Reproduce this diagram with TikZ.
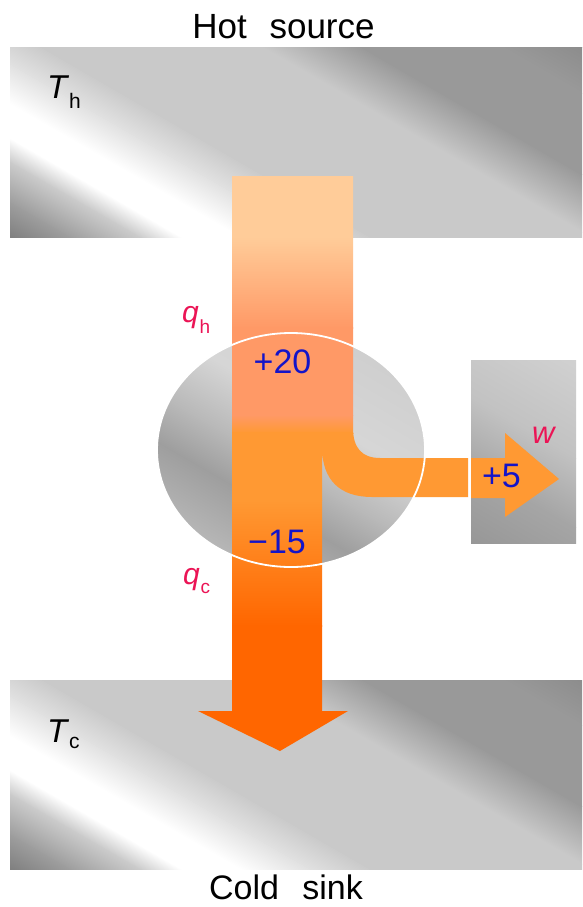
\documentclass[tikz,border=0pt]{standalone}
\usepackage{fontspec}
\setmainfont{Liberation Sans}
\begin{document}
\begin{tikzpicture}[x=1pt,y=-1pt]
\definecolor{peach}{RGB}{255,204,153}
\definecolor{salmon}{RGB}{255,153,102}
\definecolor{orng}{RGB}{255,153,51}
\definecolor{deeporange}{RGB}{255,102,0}
\definecolor{qred}{RGB}{235,20,85}
\definecolor{numblue}{RGB}{20,20,200}
\definecolor{b0}{gray}{0.50}
\definecolor{b1}{gray}{0.62}
\definecolor{b2}{gray}{0.80}
\definecolor{b3}{gray}{0.88}
\definecolor{b4}{gray}{0.79}
\definecolor{b5}{gray}{0.68}
\definecolor{b6}{gray}{0.60}
\definecolor{b7}{gray}{0.55}
\definecolor{c1}{gray}{0.76}
\definecolor{c2}{gray}{0.62}
\definecolor{c3}{gray}{0.72}
\definecolor{c4}{gray}{0.84}
\definecolor{c5}{gray}{0.80}
\definecolor{d1}{gray}{0.58}
\definecolor{d2}{gray}{0.65}
\definecolor{d3}{gray}{0.76}
\definecolor{d4}{gray}{0.83}
\tikzset{lbl/.style={inner sep=0pt, outer sep=0pt}}
\newcommand\stripefill[2]{%
  \begin{scope}[transform canvas={shift={#1},rotate=60}]
    \foreach \ua/\ca/\ub/\cb in {#2} {
      \shade[left color=\ca, right color=\cb] (\ua,-800) rectangle (\ub+0.8,800);
    }
  \end{scope}}
\useasboundingbox (0,0) rectangle (582,907);
\fill[white] (0,0) rectangle (582,907);
% hot source band
\begin{scope}
  \clip (10,48) rectangle (582,237);
  \stripefill{(10,237)}{-60/b0/0/b0, 0/b0/30/b1, 30/b1/65/b2, 65/b2/85/white, 85/white/115/white, 115/white/150/b3, 150/b3/180/b4, 180/b4/290/b4, 290/b4/340/b6, 340/b6/410/b6, 410/b6/450/b7, 450/b7/520/b7}
\end{scope}
% cold sink band
\begin{scope}
  \clip (10,680) rectangle (582,869);
  \stripefill{(10,869)}{-60/b0/0/b0, 0/b0/30/b1, 30/b1/65/b2, 65/b2/85/white, 85/white/115/white, 115/white/150/b3, 150/b3/180/b4, 180/b4/290/b4, 290/b4/340/b6, 340/b6/410/b6, 410/b6/450/b7, 450/b7/520/b7}
\end{scope}
% engine circle
\begin{scope}
  \clip (291,450) ellipse [x radius=134, y radius=117];
  \stripefill{(291,450)}{-200/c1/-150/c1, -150/c1/-60/c2, -60/c2/-20/c3, -20/c3/40/c4, 40/c4/150/c5, 150/c5/220/c5}
\end{scope}
% work box
\begin{scope}
  \clip (471,360) rectangle (576,543);
  \stripefill{(523,451)}{-180/d1/-120/d1, -120/d1/-40/d2, -40/d2/20/d3, 20/d3/120/d4, 120/d4/180/d4}
\end{scope}
% heat flow
\begin{scope}
  \clip (232,176) -- (353,176) -- (353,428) .. controls (353,448) and (362,458) .. (380,458)
    -- (468,458) -- (468,497) -- (372,497) .. controls (340,497) and (322,480) .. (322,447)
    -- (322,711) -- (348,711) -- (280,751) -- (198,711) -- (232,711) -- cycle;
  \fill[peach] (190,170) rectangle (480,238);
  \shade[top color=peach, bottom color=salmon] (190,237) rectangle (480,328);
  \fill[salmon] (190,327) rectangle (480,416);
  \shade[top color=salmon, bottom color=orng] (190,415) rectangle (480,433);
  \fill[orng] (190,432) rectangle (480,501);
  \shade[top color=orng, bottom color=deeporange] (190,500) rectangle (480,626);
  \fill[deeporange] (190,625) rectangle (480,760);
\end{scope}
\draw[white, line width=1.8] (291,450) ellipse [x radius=134, y radius=117];
% work arrow in box
\fill[orng] (471,458) -- (505,458) -- (505,433) -- (559,479) -- (505,517) -- (505,498) -- (471,498) -- cycle;
% labels
\node[lbl, anchor=base] (hot) at (283.5,38) {\fontsize{35}{35}\selectfont Hot\hspace{13pt} source};
\node[lbl, anchor=base] (cold) at (286,899) {\fontsize{34}{34}\selectfont Cold\hspace{14pt} sink};
\node[lbl, anchor=base west] (Th) at (47,98) {\fontsize{33}{33}\selectfont\itshape T\/\raisebox{-10pt}{\fontsize{21}{21}\selectfont\upshape h}};
\node[lbl, anchor=base west] (Tc) at (47,742) {\fontsize{33}{33}\selectfont\itshape T\/\raisebox{-6pt}{\fontsize{21}{21}\selectfont\upshape c}};
\node[lbl, anchor=base west, text=qred] (qh) at (182,322) {\fontsize{30}{30}\selectfont\itshape q\kern1pt\raisebox{-11pt}{\fontsize{19}{19}\selectfont\upshape h}};
\node[lbl, anchor=base west, text=qred] (qc) at (183,584) {\fontsize{30}{30}\selectfont\itshape q\kern1pt\raisebox{-9pt}{\fontsize{19}{19}\selectfont\upshape c}};
\node[lbl, anchor=base west, text=qred] (w) at (532,443) {\fontsize{31}{31}\selectfont\itshape w};
\node[lbl, anchor=base, text=numblue] (qhval) at (282.5,373) {\fontsize{34}{34}\selectfont +20};
\node[lbl, anchor=base, text=numblue] (qcval) at (277,553) {\fontsize{34}{34}\selectfont −15};
\node[lbl, anchor=base west, text=numblue] (wval) at (482,487) {\fontsize{34}{34}\selectfont +5};
\end{tikzpicture}
\end{document}
